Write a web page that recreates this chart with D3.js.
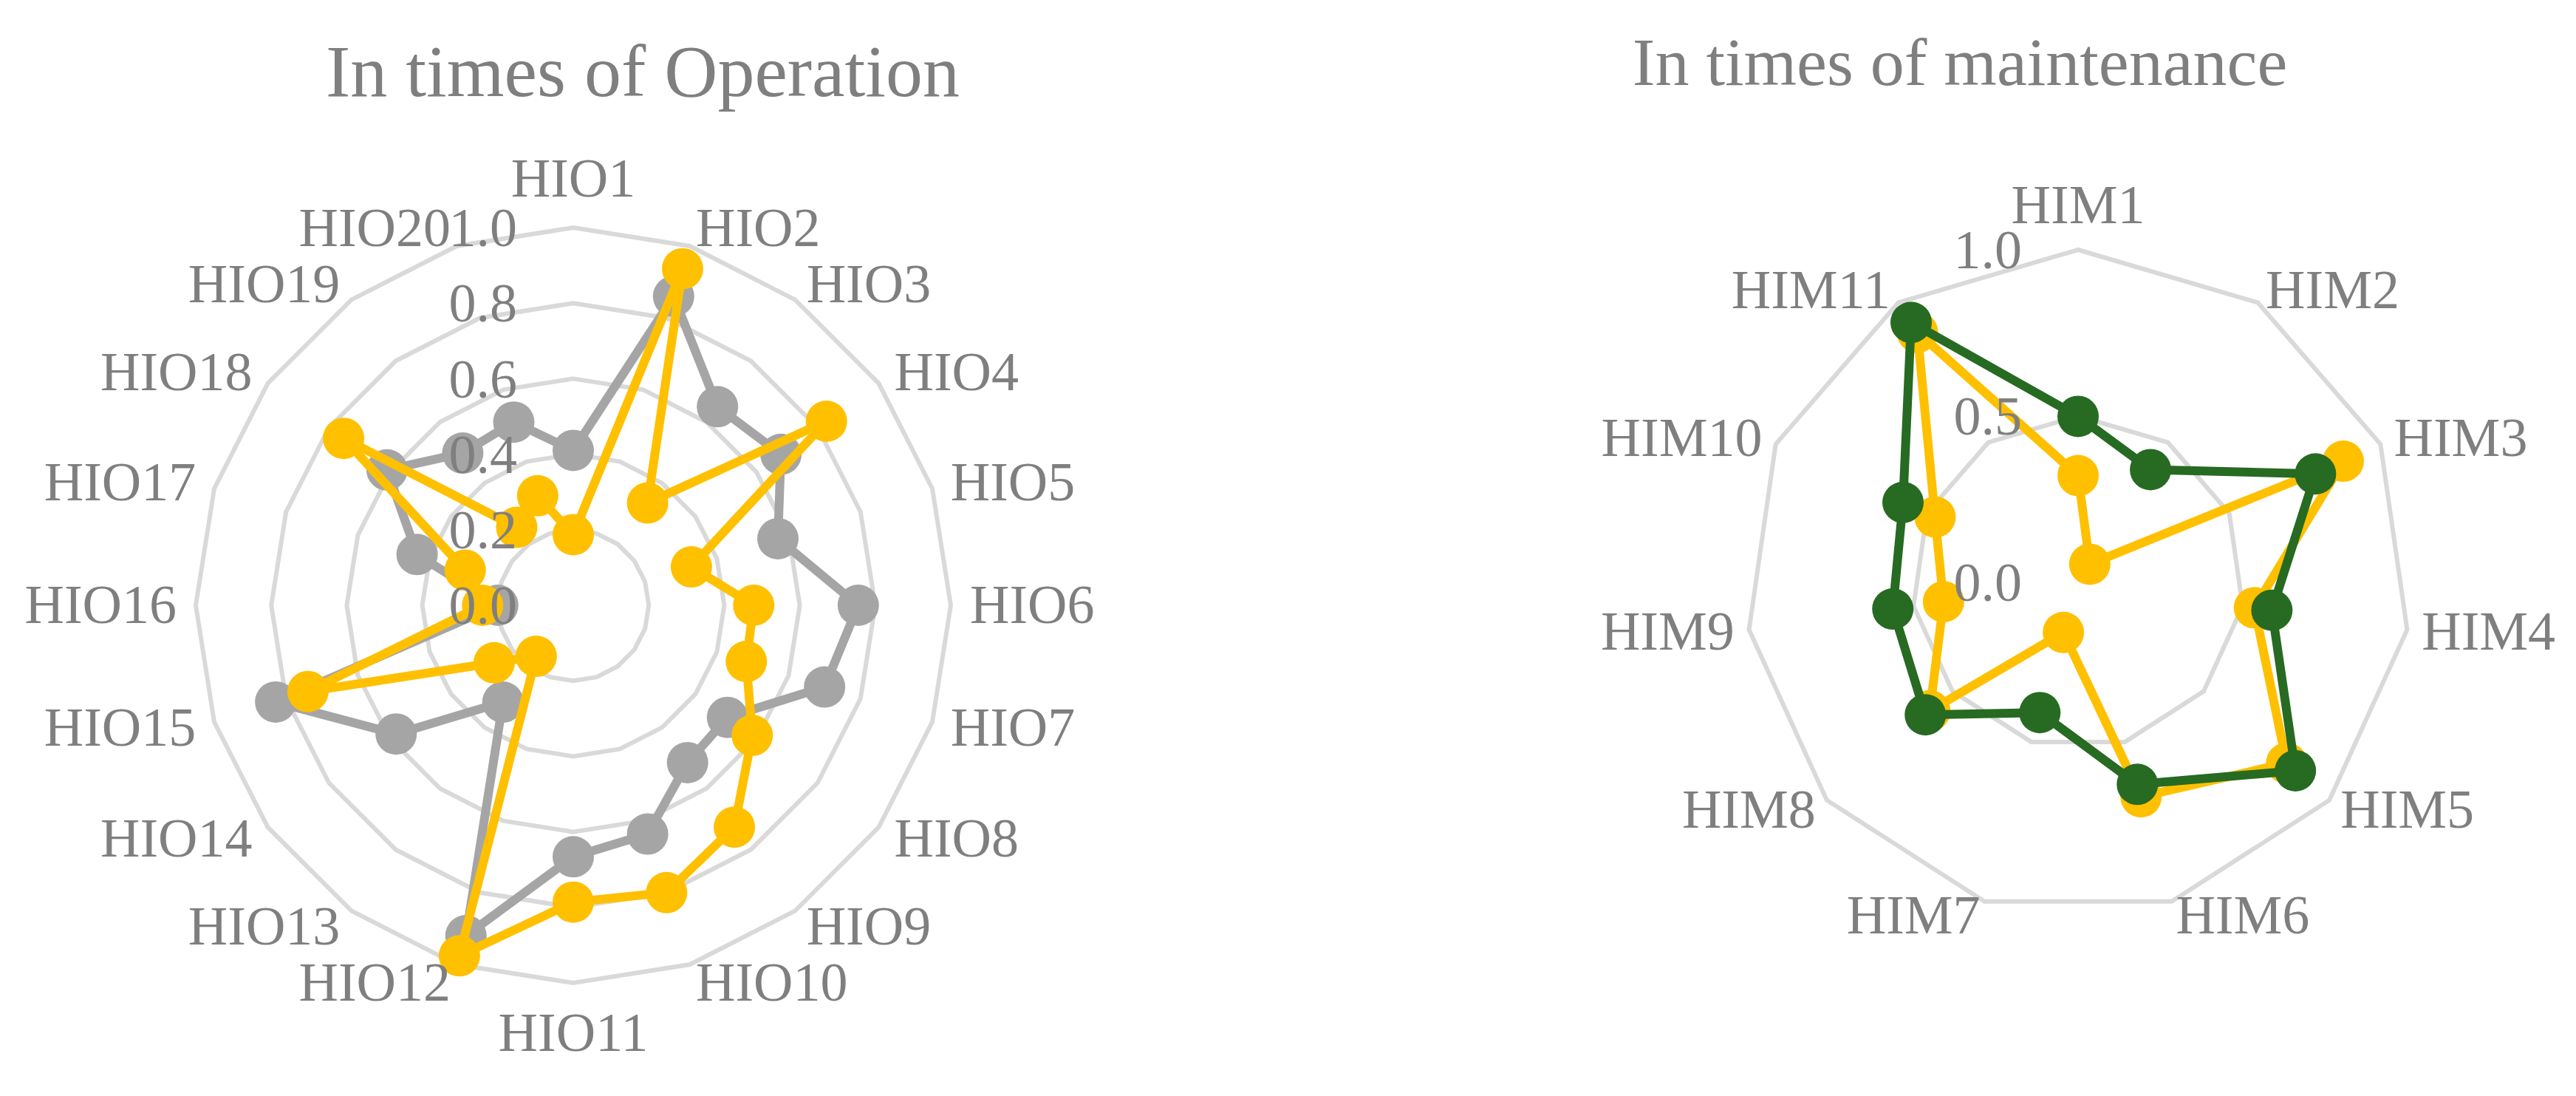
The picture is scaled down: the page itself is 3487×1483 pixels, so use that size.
<!DOCTYPE html>
<html>
<head>
<meta charset="utf-8">
<script src="https://cdn.jsdelivr.net/npm/d3@7"></script>
<style>
  html, body { margin: 0; padding: 0; background: #ffffff; }
  svg { display: block; }
  text { font-family: "Liberation Serif", "Times New Roman", serif; fill: #7f7f7f; }
</style>
</head>
<body>
<script>
// ---------- data ----------
const opCategories = ["HIO1","HIO2","HIO3","HIO4","HIO5","HIO6","HIO7","HIO8","HIO9","HIO10",
                      "HIO11","HIO12","HIO13","HIO14","HIO15","HIO16","HIO17","HIO18","HIO19","HIO20"];
const opGray   = [0.41, 0.86, 0.65, 0.68, 0.57, 0.755, 0.70, 0.505, 0.515, 0.637,
                  0.666, 0.92, 0.317, 0.58, 0.829, 0.20, 0.435, 0.61, 0.498, 0.51];
const opYellow = [0.187, 0.937, 0.335, 0.829, 0.329, 0.478, 0.482, 0.586, 0.726, 0.80,
                  0.786, 0.976, 0.167, 0.259, 0.739, 0.24, 0.301, 0.752, 0.255, 0.305];
const opTicks = [0.0, 0.2, 0.4, 0.6, 0.8, 1.0];
const opTitle = "In times of Operation";

const mtCategories = ["HIM1","HIM2","HIM3","HIM4","HIM5","HIM6","HIM7","HIM8","HIM9","HIM10","HIM11"];
const mtYellow = [0.321, 0.065, 0.877, 0.536, 0.83, 0.672, 0.157, 0.59, 0.409, 0.473, 0.894];
const mtGreen  = [0.499, 0.403, 0.785, 0.589, 0.865, 0.633, 0.408, 0.608, 0.563, 0.579, 0.929];
const mtTicks = [0.0, 0.5, 1.0];
const mtTitle = "In times of maintenance";

// ---------- drawing ----------
const W = 3487, H = 1483;
const svg = d3.select("body").append("svg").attr("width", W).attr("height", H);
svg.append("rect").attr("width", W).attr("height", H).attr("fill", "#ffffff");

const FS = 74;

function radar(cfg) {
  const n = cfg.categories.length;
  const g = svg.append("g").attr("transform", `translate(${cfg.cx},${cfg.cy})`);
  const r = d3.scaleLinear().domain([0, 1]).range([0, cfg.R]);
  const ang = d3.scaleLinear().domain([0, n]).range([0, 2 * Math.PI]);
  const idx = d3.range(n);

  // grid rings
  const ring = d3.lineRadial().angle(i => ang(i)).curve(d3.curveLinearClosed);
  cfg.ticks.filter(t => t > 0).forEach(t => {
    g.append("path")
      .attr("d", ring.radius(() => r(t))(idx))
      .attr("fill", "none").attr("stroke", "#d9d9d9").attr("stroke-width", 6)
      .attr("stroke-linejoin", "miter");
  });

  // series
  const line = d3.lineRadial().angle((d, i) => ang(i)).radius(d => r(d)).curve(d3.curveLinearClosed);
  cfg.series.forEach(s => {
    g.append("path").attr("d", line(s.values))
      .attr("fill", "none").attr("stroke", s.color).attr("stroke-width", 12)
      .attr("stroke-linejoin", "round");
    g.selectAll(null).data(s.values).enter().append("circle")
      .attr("cx", (d, i) => d3.pointRadial(ang(i), r(d))[0])
      .attr("cy", (d, i) => d3.pointRadial(ang(i), r(d))[1])
      .attr("r", 28).attr("fill", s.color);
  });

  // value tick labels (on top)
  g.selectAll(null).data(cfg.ticks).enter().append("text")
    .attr("x", -cfg.tickDx)
    .attr("y", d => -r(d) + 0.34 * FS)
    .attr("text-anchor", "end")
    .attr("font-size", FS)
    .text(d => d.toFixed(1));

  // category labels
  g.selectAll(null).data(cfg.categories).enter().append("text")
    .attr("font-size", FS)
    .each(function (d, i) {
      const a = ang(i);
      const [x, y] = d3.pointRadial(a, cfg.D);
      const s = Math.sin(a), c = Math.cos(a);
      let anchor = "middle", by = y + 0.33 * FS;
      if (s > 0.01) anchor = "start";
      else if (s < -0.01) anchor = "end";
      else if (c > 0) by = y - 0.216 * FS;
      else by = y + 0.89 * FS;
      d3.select(this).attr("x", x).attr("y", by).attr("text-anchor", anchor).text(d);
    });

  svg.append("text")
    .attr("x", cfg.titleX).attr("y", cfg.titleY)
    .attr("text-anchor", "middle").attr("font-size", cfg.titleFS)
    .text(cfg.title);
}

radar({
  cx: 776, cy: 819, R: 511, D: 537, tickDx: 76,
  categories: opCategories, ticks: opTicks,
  series: [{ values: opGray, color: "#a5a5a5" }, { values: opYellow, color: "#ffc000" }],
  title: opTitle, titleX: 870, titleY: 130, titleFS: 100
});

radar({
  cx: 2813, cy: 788, R: 450, D: 470, tickDx: 76,
  categories: mtCategories, ticks: mtTicks,
  series: [{ values: mtYellow, color: "#ffc000" }, { values: mtGreen, color: "#276a22" }],
  title: mtTitle, titleX: 2653, titleY: 115, titleFS: 92
});
</script>
</body>
</html>
